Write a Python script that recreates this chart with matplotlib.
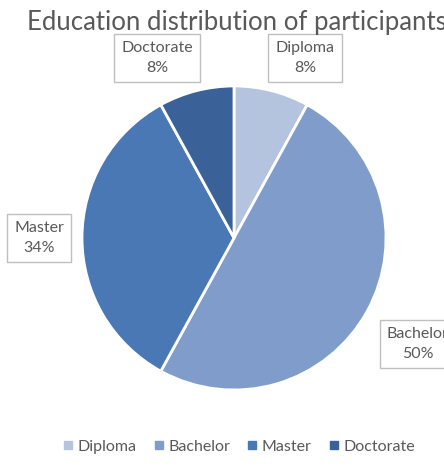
import matplotlib.pyplot as plt
from matplotlib.lines import Line2D

# Education distribution of participants
categories = ['Diploma', 'Bachelor', 'Master', 'Doctorate']
shares = [8, 50, 34, 8]
colors = ['#b4c3de', '#7f9ccb', '#4a78b5', '#3b6298']
label_pos = [(0.467, 1.184), (1.21, -0.697), (-1.283, 0.0), (-0.507, 1.184)]

plt.rcParams['font.family'] = ['Lato', 'DejaVu Sans']
txt = '#595959'

fig = plt.figure(figsize=(4.44, 4.68), dpi=100)
ax = fig.add_axes([0.527 - 0.3423, 0.4915 - 0.3248, 0.6847, 0.6496])
ax.pie(shares, colors=colors, startangle=90, counterclock=False,
       wedgeprops=dict(edgecolor='white', linewidth=2), radius=1)
ax.set_xlim(-1, 1)
ax.set_ylim(-1, 1)
ax.set_aspect('equal')

for name, val, (x, y) in zip(categories, shares, label_pos):
    ax.text(x, y, f'{name}\n{val}%', ha='center', va='center', fontsize=11.5,
            color=txt, linespacing=1.5, clip_on=False,
            bbox=dict(boxstyle='square,pad=0.45', fc='white', ec='#bfbfbf', lw=1))

fig.text(0.533, 0.952, 'Education distribution of participants', ha='center',
         va='center', fontsize=18.5, color=txt)

handles = [Line2D([], [], marker='s', linestyle='', markersize=6,
                  markerfacecolor=c, markeredgecolor=c) for c in colors]
fig.legend(handles, categories, loc='center', bbox_to_anchor=(0.535, 0.045),
           ncol=4, frameon=False, fontsize=11.5, labelcolor=txt,
           handletextpad=0.1, columnspacing=0.9, handlelength=1.0)

fig.savefig('out.png', dpi=100)
